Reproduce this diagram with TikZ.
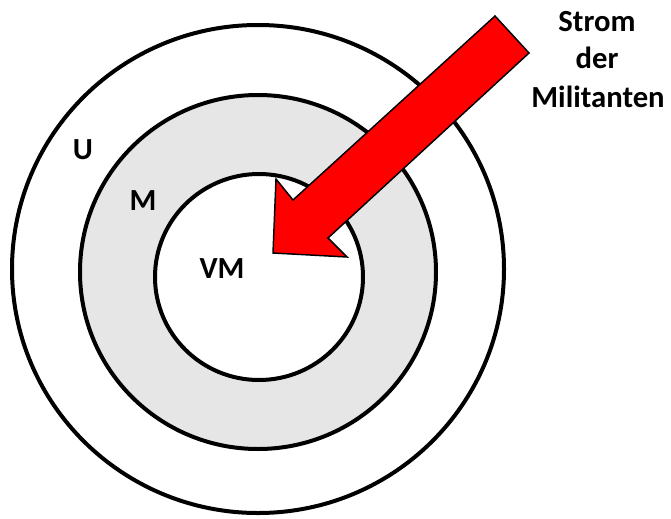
\documentclass[tikz,border=0pt]{standalone}
\usepackage{fontspec}
\setmainfont{Carlito}
\usepackage{xcolor}
\usetikzlibrary{positioning}
\definecolor{ringgray}{HTML}{E6E6E6}
\definecolor{flowred}{HTML}{FF0000}

\begin{document}
\begin{tikzpicture}[
    x=0.75pt, y=-0.75pt,
    ring/.style={draw=black, line width=3pt, fill=#1},
    zone/.style={font=\fontsize{23}{28}\selectfont\bfseries, inner sep=0pt, anchor=base},
    flow/.style={draw=black, line width=1.1pt, fill=flowred, line join=miter}
]
\useasboundingbox (0,0) rectangle (671,518);

% Rings
\draw[ring=white] (258,269) ellipse [x radius=246, y radius=244];
\draw[ring=ringgray] (258,272) ellipse [x radius=178, y radius=177];
\draw[ring=white] (259,277) ellipse [x radius=104, y radius=103];

% Zone labels
\node[zone] (u) at (83,159) {U};
\node[zone] (m) at (143,210) {M};
\node[zone] (vm) at (222,278) {VM};

% Flow arrow
\draw[flow] (495,16) -- (529,53) -- (328,238) -- (347,257) -- (273,253)
    -- (276,179) -- (293,200) -- cycle;

% Arrow label
\node[zone] (strom) at (597,31) {Strom};
\node[zone] (der) at (597,68) {der};
\node[zone] (mil) at (598,107) {Militanten};

\end{tikzpicture}
\end{document}
